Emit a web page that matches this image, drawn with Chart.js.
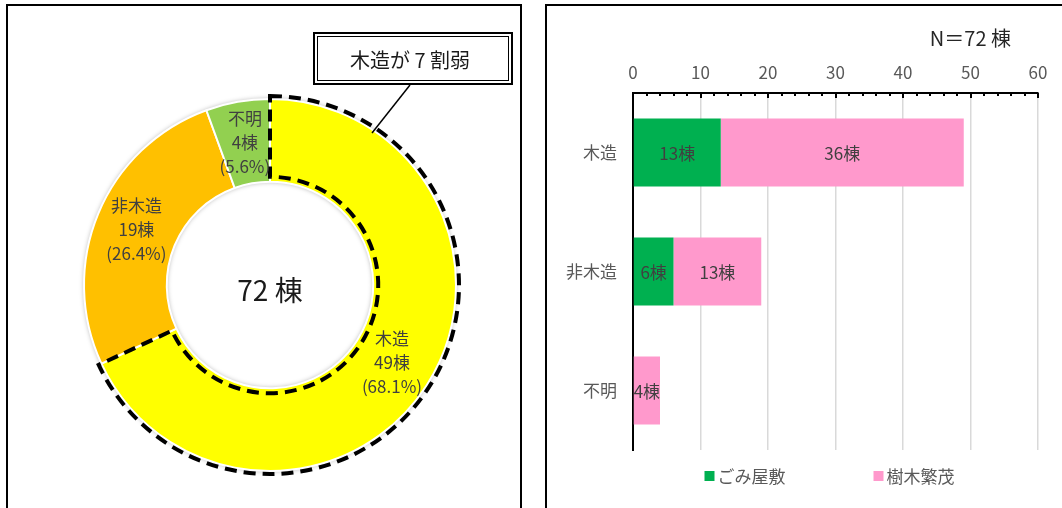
<!DOCTYPE html>
<html lang="ja">
<head>
<meta charset="utf-8">
<script src="https://cdn.jsdelivr.net/npm/chart.js@4.4.1/dist/chart.umd.min.js"></script>
<style>
  html, body { margin: 0; padding: 0; background: #fff; width: 1062px; height: 508px; overflow: hidden; }
  .frame { position: absolute; box-sizing: border-box; border: 2px solid #000; }
  #frameL { left: 6px; top: 4px; width: 516px; height: 530px; }
  #frameR { left: 545px; top: 4px; width: 540px; height: 530px; }
  canvas { position: absolute; }
  #pie { left: 0; top: 0; }
  #bar { left: 540px; top: 0; }
</style>
</head>
<body>
<div class="frame" id="frameL"></div>
<div class="frame" id="frameR"></div>
<canvas id="pie" width="530" height="508"></canvas>
<canvas id="bar" width="522" height="508"></canvas>
<script>
const FONT = '"Noto Sans CJK JP", "Noto Sans", sans-serif';

// 構造別の棟数（ドーナツ）
const kouzouLabels = ['木造', '非木造', '不明'];
const kouzouCounts = [49, 19, 4];
const kouzouColors = ['#FFFF00', '#FFC000', '#92D050'];
const calloutText = '木造が 7 割弱';

// 構造別・要因別の棟数（横棒）
const barCategories = ['木造', '非木造', '不明'];
const gomiYashiki = [13, 6, 0];
const jumokuHanmo = [36, 13, 4];
const xTicks = [0, 10, 20, 30, 40, 50, 60];

const total = kouzouCounts.reduce((a, b) => a + b, 0);

// リングの影
const ringShadow = {
  id: 'ringShadow',
  beforeDatasetsDraw(chart) {
    const arc = chart.getDatasetMeta(0).data[0];
    if (!arc) return;
    const ctx = chart.ctx;
    ctx.save();
    ctx.shadowColor = 'rgba(0,0,0,0.35)';
    ctx.shadowBlur = 5;
    ctx.fillStyle = '#fff';
    ctx.beginPath();
    ctx.arc(arc.x, arc.y, arc.outerRadius, 0, Math.PI * 2);
    ctx.arc(arc.x, arc.y, arc.innerRadius, 0, Math.PI * 2, true);
    ctx.fill('evenodd');
    ctx.restore();
  }
};

// 木造部分の点線囲み
const dashedOutline = {
  id: 'dashedOutline',
  afterDatasetsDraw(chart) {
    const arc = chart.getDatasetMeta(0).data[0];
    const ctx = chart.ctx;
    const rOut = arc.outerRadius + 3;
    const rIn = arc.innerRadius + 5;
    ctx.save();
    ctx.strokeStyle = '#000';
    ctx.lineWidth = 4;
    ctx.setLineDash([12, 7]);
    ctx.beginPath();
    ctx.arc(arc.x, arc.y, rOut, arc.startAngle, arc.endAngle);
    ctx.lineTo(arc.x + rIn * Math.cos(arc.endAngle), arc.y + rIn * Math.sin(arc.endAngle));
    ctx.arc(arc.x, arc.y, rIn, arc.endAngle, arc.startAngle, true);
    ctx.closePath();
    ctx.stroke();
    ctx.restore();
  }
};

// ラベルと中央の合計
const pieLabels = {
  id: 'pieLabels',
  afterDatasetsDraw(chart) {
    const ctx = chart.ctx;
    const meta = chart.getDatasetMeta(0);
    ctx.save();
    ctx.textAlign = 'center';
    ctx.textBaseline = 'middle';
    ctx.fillStyle = '#404040';
    ctx.font = '17px ' + FONT;
    meta.data.forEach((arc, i) => {
      const p = arc.tooltipPosition();
      const pct = (kouzouCounts[i] / total * 100).toFixed(1);
      const lines = [kouzouLabels[i], kouzouCounts[i] + '棟', '(' + pct + '%)'];
      lines.forEach((t, k) => ctx.fillText(t, p.x, p.y + (k - 1) * 24));
    });
    const c = meta.data[0];
    ctx.fillStyle = '#1a1a1a';
    ctx.font = '28px ' + FONT;
    ctx.fillText(total + ' 棟', c.x, c.y + 5);
    ctx.restore();
  }
};

// 吹き出し
const callout = {
  id: 'callout',
  afterDraw(chart) {
    const ctx = chart.ctx;
    ctx.save();
    ctx.strokeStyle = '#000';
    ctx.lineWidth = 1.5;
    ctx.beginPath();
    ctx.moveTo(410, 85);
    ctx.lineTo(372, 133);
    ctx.stroke();
    ctx.fillStyle = '#fff';
    ctx.fillRect(313, 32, 200, 53);
    ctx.lineWidth = 2;
    ctx.strokeRect(314, 33, 198, 51);
    ctx.lineWidth = 1;
    ctx.strokeRect(317.5, 36.5, 191, 44);
    ctx.fillStyle = '#1a1a1a';
    ctx.font = '20px ' + FONT;
    ctx.textAlign = 'center';
    ctx.textBaseline = 'middle';
    ctx.fillText(calloutText, 410, 60);
    ctx.restore();
  }
};

new Chart(document.getElementById('pie'), {
  type: 'doughnut',
  data: {
    labels: kouzouLabels,
    datasets: [{
      data: kouzouCounts,
      backgroundColor: kouzouColors,
      borderColor: '#fff',
      borderWidth: 2
    }]
  },
  options: {
    responsive: false,
    animation: false,
    cutout: '55.5%',
    layout: { padding: { left: 83, right: 73, top: 98, bottom: 36 } },
    plugins: { legend: { display: false }, tooltip: { enabled: false } }
  },
  plugins: [ringShadow, dashedOutline, pieLabels, callout]
});

// 上側軸の内向き目盛り
const innerTicks = {
  id: 'innerTicks',
  afterDraw(chart) {
    const sx = chart.scales.x;
    const top = chart.chartArea.top;
    const ctx = chart.ctx;
    ctx.save();
    ctx.strokeStyle = '#000';
    ctx.lineWidth = 2;
    for (let v = 0; v <= 60; v += 2) {
      const x = Math.round(sx.getPixelForValue(v));
      const len = v % 10 === 0 ? 5 : 3;
      ctx.beginPath();
      ctx.moveTo(x, top);
      ctx.lineTo(x, top + len);
      ctx.stroke();
    }
    ctx.restore();
  }
};

// 棒の中の数値
const barLabels = {
  id: 'barLabels',
  afterDatasetsDraw(chart) {
    const ctx = chart.ctx;
    ctx.save();
    ctx.font = '17px ' + FONT;
    ctx.fillStyle = '#404040';
    ctx.textAlign = 'center';
    ctx.textBaseline = 'middle';
    chart.data.datasets.forEach((ds, di) => {
      chart.getDatasetMeta(di).data.forEach((bar, i) => {
        const v = ds.data[i];
        if (!v) return;
        ctx.fillText(v + '棟', (bar.x + bar.base) / 2, bar.y + 1);
      });
    });
    ctx.restore();
  }
};

// N=とlegend
const extras = {
  id: 'extras',
  afterDraw(chart) {
    const ctx = chart.ctx;
    const area = chart.chartArea;
    ctx.save();
    ctx.fillStyle = '#262626';
    ctx.font = '20px ' + FONT;
    ctx.textAlign = 'right';
    ctx.textBaseline = 'middle';
    ctx.fillText('N＝' + total + ' 棟', area.right - 27, 38);

    ctx.font = '17px ' + FONT;
    ctx.textAlign = 'left';
    const gap = 88;
    const items = chart.data.datasets.map(ds => ({ text: ds.label, color: ds.backgroundColor, w: 13 + ctx.measureText(ds.label).width }));
    const totalW = items.reduce((a, it) => a + it.w, 0) + gap * (items.length - 1);
    let x = (area.left + area.right) / 2 - 6 - totalW / 2;
    const y = 476;
    items.forEach(it => {
      ctx.fillStyle = it.color;
      ctx.fillRect(x, y - 5, 10, 10);
      ctx.fillStyle = '#595959';
      ctx.fillText(it.text, x + 13, y + 1);
      x += it.w + gap;
    });
    ctx.restore();
  }
};

new Chart(document.getElementById('bar'), {
  type: 'bar',
  data: {
    labels: barCategories,
    datasets: [
      { label: 'ごみ屋敷', data: gomiYashiki, backgroundColor: '#00B050', categoryPercentage: 0.8, barPercentage: 0.715 },
      { label: '樹木繁茂', data: jumokuHanmo, backgroundColor: '#FF99CC', categoryPercentage: 0.8, barPercentage: 0.715 }
    ]
  },
  options: {
    indexAxis: 'y',
    responsive: false,
    animation: false,
    layout: { padding: { left: 0, top: 0, right: 24, bottom: 58 } },
    scales: {
      x: {
        position: 'top',
        stacked: true,
        min: 0,
        max: 60,
        afterFit: s => { s.height = 93; },
        afterBuildTicks: s => { s.ticks = xTicks.map(v => ({ value: v })); },
        ticks: { color: '#595959', font: { family: FONT, size: 17 }, padding: 10 },
        grid: { color: '#D9D9D9', lineWidth: 1.5, drawTicks: false },
        border: { color: '#000', width: 2 }
      },
      y: {
        stacked: true,
        afterFit: s => { s.width = 93; },
        ticks: { color: '#595959', font: { family: FONT, size: 17 }, padding: 16 },
        grid: { display: false, drawTicks: false },
        border: { color: '#000', width: 2 }
      }
    },
    plugins: { legend: { display: false }, tooltip: { enabled: false } }
  },
  plugins: [innerTicks, barLabels, extras]
});
</script>
</body>
</html>
